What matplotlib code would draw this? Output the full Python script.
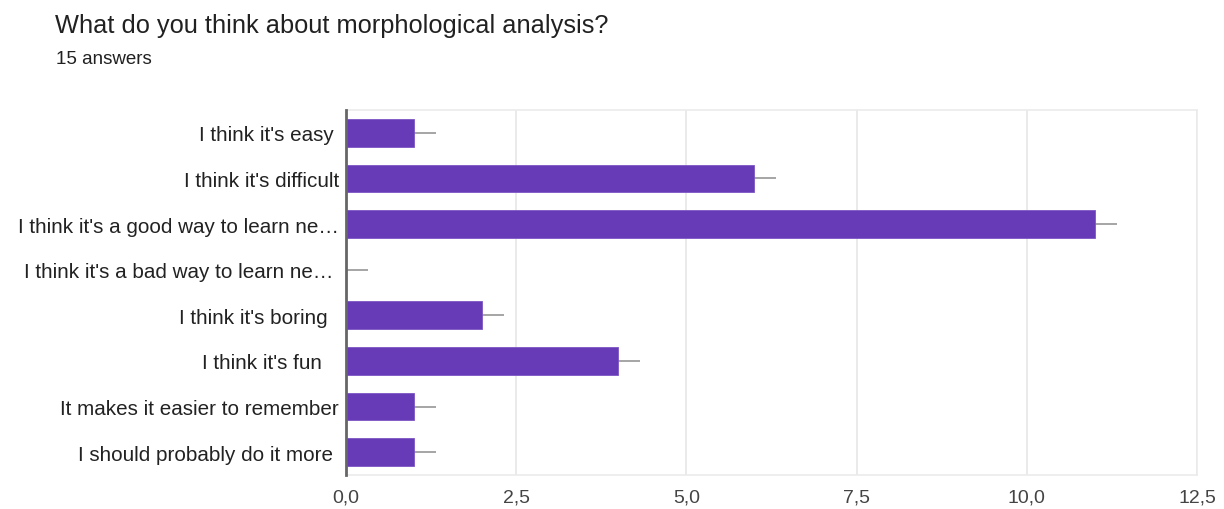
import matplotlib
matplotlib.use("Agg")
import matplotlib.pyplot as plt
import numpy as np

plt.rcParams["font.family"] = ["Liberation Sans", "DejaVu Sans"]

title = "What do you think about morphological analysis?"
subtitle = "15 answers"
categories = [
    "I think it's easy ",
    "I think it's difficult",
    "I think it's a good way to learn ne…",
    "I think it's a bad way to learn ne… ",
    "I think it's boring  ",
    "I think it's fun   ",
    "It makes it easier to remember",
    "I should probably do it more ",
]
counts = [1, 6, 11, 0, 2, 4, 1, 1]
spread = 0.32
xticks = [0.0, 2.5, 5.0, 7.5, 10.0, 12.5]
xtick_labels = ["0,0", "2,5", "5,0", "7,5", "10,0", "12,5"]

fig = plt.figure(figsize=(12.24, 5.10), dpi=100)
ax = fig.add_axes([346 / 1224, 34 / 510, 851 / 1224, 365 / 510])

y = np.arange(len(categories))
ax.errorbar(counts, y, xerr=spread, fmt="none", ecolor="#9e9e9e",
            elinewidth=1.3, capsize=0, zorder=2)
ax.barh(y, counts, height=0.61, color="#673ab7", edgecolor="#7c55c4",
        linewidth=0.6, zorder=3)

ax.set_xlim(0, 12.5)
ax.set_ylim(len(categories) - 0.5, -0.5)
ax.set_xticks(xticks)
ax.set_xticklabels(xtick_labels, fontsize=14, color="#444444")
ax.set_yticks(y)
ax.set_yticklabels(categories, fontsize=14.9, color="#222222")
ax.tick_params(axis="both", length=0)
ax.tick_params(axis="x", pad=10)
ax.tick_params(axis="y", pad=5)

ax.grid(axis="x", color="#e6e6e6", linewidth=1.2, zorder=0)
for side in ("top", "right", "bottom"):
    ax.spines[side].set_color("#ebebeb")
    ax.spines[side].set_linewidth(1.2)
ax.spines["left"].set_color("#666666")
ax.spines["left"].set_linewidth(2)
ax.spines["left"].set_zorder(4)

fig.text(55 / 1224, 1 - 33 / 510, title, fontsize=18.3, color="#212121",
         ha="left", va="baseline")
fig.text(56 / 1224, 1 - 64 / 510, subtitle, fontsize=13.5, color="#212121",
         ha="left", va="baseline")

fig.savefig("out.png", dpi=100)
